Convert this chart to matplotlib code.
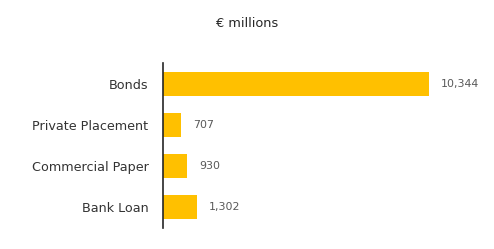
import matplotlib
matplotlib.use('Agg')
import matplotlib.pyplot as plt

# datos
categories = ['Bonds', 'Private Placement', 'Commercial Paper', 'Bank Loan']
values = [10344, 707, 930, 1302]
value_labels = ['10,344', '707', '930', '1,302']

plt.rcParams['font.family'] = ['DejaVu Sans']

fig = plt.figure(figsize=(4.94, 2.49), dpi=100)
ax = fig.add_axes([0.33, 0.084, 0.662, 0.663])

pos = list(range(len(categories)))
ax.barh(pos, values, height=0.58, color='#FFC000')
ax.set_ylim(len(categories) - 0.5, -0.5)
ax.set_xlim(0, 12716)

# etiquetas de valor
for p, v, lab in zip(pos, values, value_labels):
    ax.text(v + 460, p, lab, va='center', ha='left', fontsize=7.9, color='#595959')

ax.set_yticks(pos)
ax.set_yticklabels(categories, fontsize=9.2, color='#333333')
ax.tick_params(axis='y', length=0, pad=10.5)
ax.set_xticks([])
for s in ['top', 'right', 'bottom']:
    ax.spines[s].set_visible(False)
ax.spines['left'].set_color('#262626')
ax.spines['left'].set_linewidth(1.2)

fig.text(0.5, 0.905, '€ millions', ha='center', va='center', fontsize=9.3, color='#262626')

fig.savefig('out.png', dpi=100)
